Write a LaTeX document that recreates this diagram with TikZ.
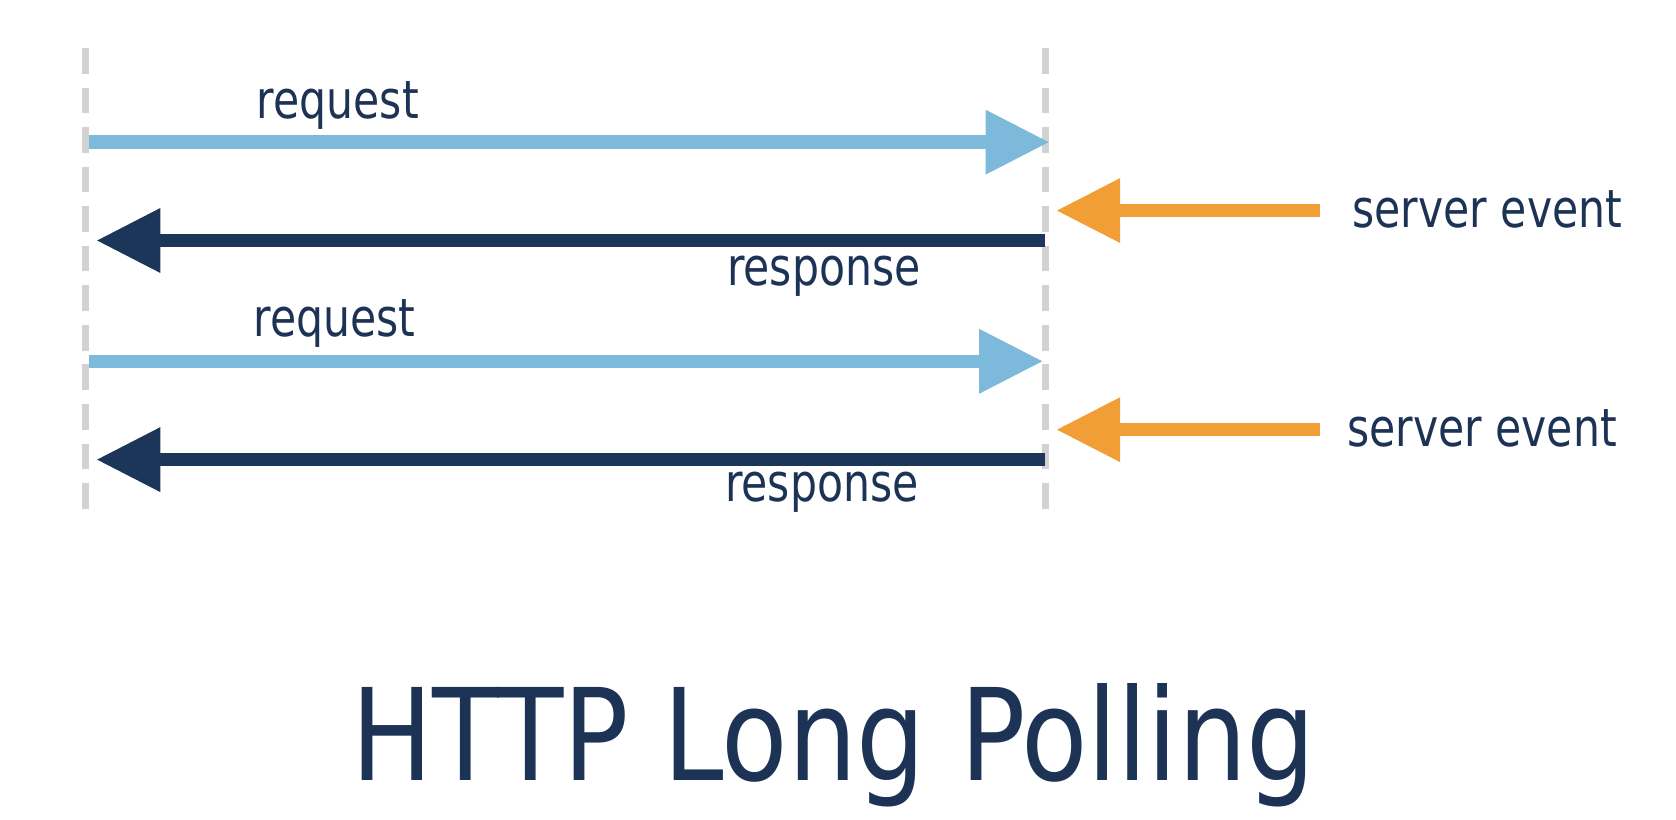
\documentclass[tikz,border=0pt]{standalone}
\usepackage{fontspec}
\usetikzlibrary{arrows.meta}
\newfontfamily\labfont{DejaVu Sans Condensed}
\definecolor{reqblue}{HTML}{7DB9DA}
\definecolor{navy}{HTML}{1B3659}
\definecolor{evorange}{HTML}{F09E35}
\definecolor{dashgray}{HTML}{D2D2D2}
\definecolor{txtnavy}{HTML}{1D3356}
\tikzset{
  lifeline/.style={draw=dashgray, line width=0.14cm, dash pattern=on 0.48cm off 0.26cm},
  msg/.style={line width=0.25cm, -{Triangle[length=1.2cm,width=1.14cm]}},
  reqarrow/.style={msg, draw=reqblue, fill=reqblue},
  resarrow/.style={msg, draw=navy, fill=navy},
  evarrow/.style={msg, draw=evorange, fill=evorange},
  lbl/.style={inner sep=0pt, text=txtnavy, font=\labfont\fontsize{28}{34}\selectfont},
  ttl/.style={inner sep=0pt, text=txtnavy, font=\labfont\fontsize{68}{80}\selectfont}
}
\begin{document}
\begin{tikzpicture}[x=0.02cm, y=-0.02cm]
\useasboundingbox (0,0) rectangle (1568,767);
% lifelines
\coordinate (cTop) at (80,45);
\coordinate (cBot) at (80,482);
\coordinate (sTop) at (978,45);
\coordinate (sBot) at (978,482);
\draw[lifeline] (cTop) -- (cBot);
\draw[lifeline] (sTop) -- (sBot);
% message end points
\coordinate (q1a) at (83,133);  \coordinate (q1b) at (982,133);
\coordinate (r1a) at (978,225); \coordinate (r1b) at (90,225);
\coordinate (e1a) at (1235,197); \coordinate (e1b) at (988,197);
\coordinate (q2a) at (83,338);  \coordinate (q2b) at (976,338);
\coordinate (r2a) at (978,430); \coordinate (r2b) at (90,430);
\coordinate (e2a) at (1235,402); \coordinate (e2b) at (988,402);
\draw[reqarrow] (q1a) -- (q1b);
\draw[resarrow] (r1a) -- (r1b);
\draw[evarrow] (e1a) -- (e1b);
\draw[reqarrow] (q2a) -- (q2b);
\draw[resarrow] (r2a) -- (r2b);
\draw[evarrow] (e2a) -- (e2b);
% labels
\node[lbl, anchor=base west] (lq1) at (240,111) {\scalebox{0.9}[1]{request}};
\node[lbl, anchor=base west] (lr1) at (680,267) {\scalebox{0.9}[1]{response}};
\node[lbl, anchor=base west] (le1) at (1265,213) {\scalebox{0.9}[1]{server event}};
\node[lbl, anchor=base west] (lq2) at (237,315) {\scalebox{0.9}[1]{request}};
\node[lbl, anchor=base west] (lr2) at (678,469) {\scalebox{0.9}[1]{response}};
\node[lbl, anchor=base west] (le2) at (1260,418) {\scalebox{0.9}[1]{server event}};
% title
\node[ttl, anchor=base] (title) at (780,730) {\scalebox{0.945}[1]{HTTP Long Polling}};
\end{tikzpicture}
\end{document}
